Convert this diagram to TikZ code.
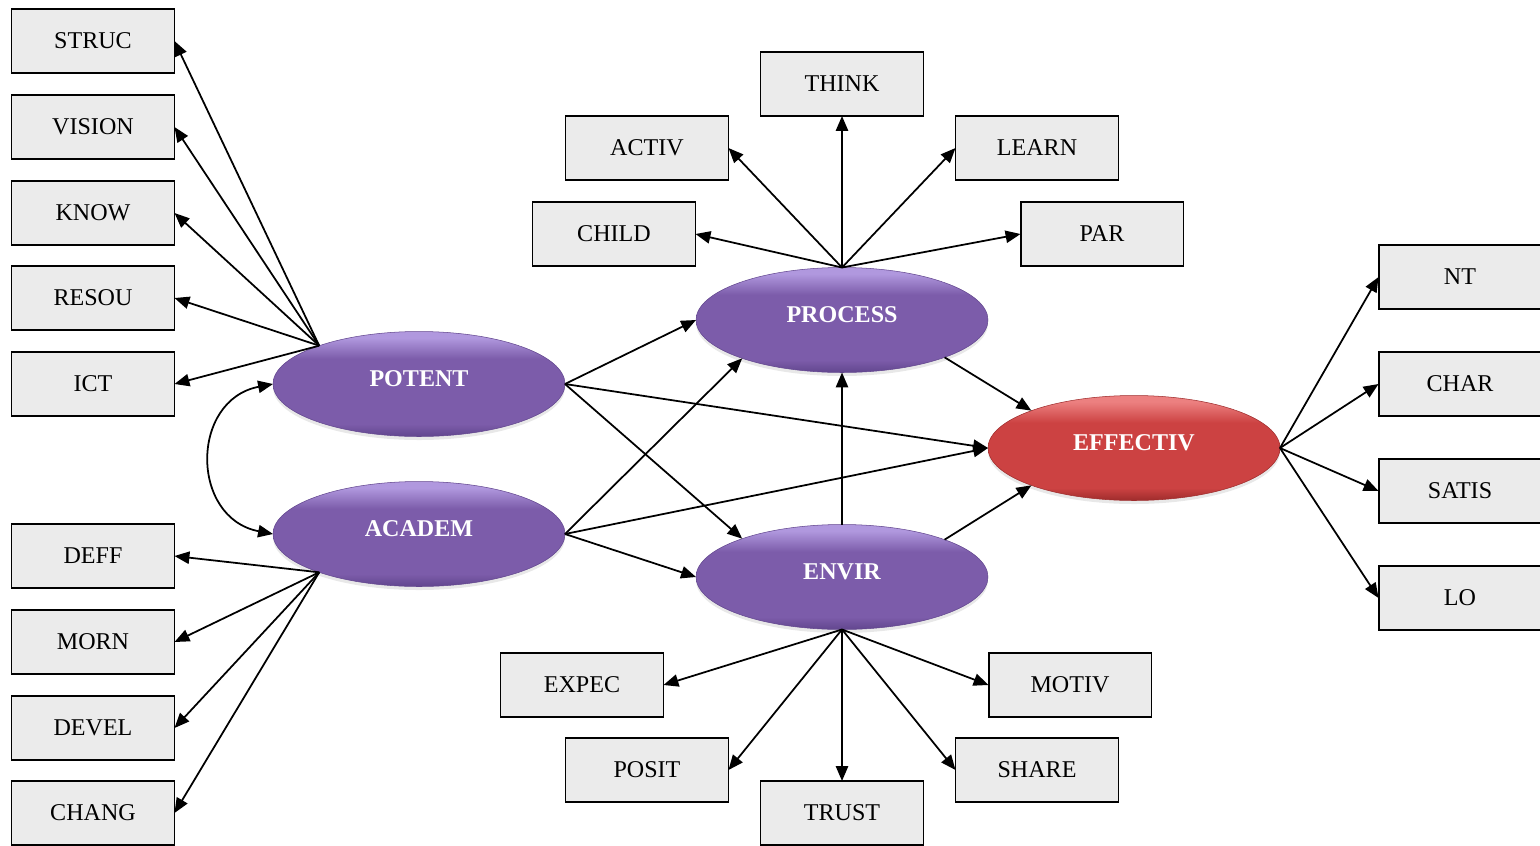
\documentclass[tikz,border=0pt]{standalone}
\usepackage{fontspec}
\setmainfont{Liberation Serif}
\usetikzlibrary{shapes.geometric,arrows.meta,shadows}

\definecolor{boxfill}{RGB}{235,235,235}
\definecolor{plight}{RGB}{176,152,222}
\definecolor{pmain}{RGB}{124,92,170}
\definecolor{pdark}{RGB}{98,70,142}
\definecolor{rlight}{RGB}{236,128,128}
\definecolor{rmain}{RGB}{204,66,66}
\definecolor{rdark}{RGB}{158,44,44}

\pgfdeclareverticalshading{purpleball}{100bp}{color(0bp)=(pdark); color(25bp)=(pdark); color(31bp)=(pmain); color(62bp)=(pmain); color(72bp)=(plight); color(75bp)=(plight); color(100bp)=(plight)}
\pgfdeclareverticalshading{redball}{100bp}{color(0bp)=(rdark); color(25bp)=(rdark); color(31bp)=(rmain); color(62bp)=(rmain); color(72bp)=(rlight); color(75bp)=(rlight); color(100bp)=(rlight)}

\begin{document}
\begin{tikzpicture}[x=0.02cm,y=-0.02cm,
  box/.style={draw, line width=1.1pt, fill=boxfill, minimum width=3.26cm,
    minimum height=1.28cm, inner sep=0pt, outer sep=0pt,
    font=\fontsize{13.7}{16}\selectfont},
  latent/.style={ellipse, minimum width=5.84cm, minimum height=2.1cm,
    inner sep=0pt, outer sep=0pt, text=white, text depth=0.2cm,
    font=\fontsize{13.7}{16}\selectfont\bfseries,
    shading=purpleball, draw=pdark, line width=0.3pt,
    drop shadow={opacity=0.18, shadow xshift=0pt, shadow yshift=-2pt}},
  outcome/.style={latent, shading=redball, draw=rdark},
  arr/.style={-{Triangle[length=8.5pt,width=7pt]}, line width=1pt},
  darr/.style={{Triangle[length=8.5pt,width=7pt]}-{Triangle[length=8.5pt,width=7pt]}, line width=1pt}]

\useasboundingbox (0,0) rectangle (1540,845);

% latent constructs
\node[latent] (potent) at (419,384) {POTENT};
\node[latent] (academ) at (419,534) {ACADEM};
\node[latent] (process) at (842,320) {PROCESS};
\node[latent] (envir) at (842,577) {ENVIR};
\node[outcome] (effectiv) at (1134,448) {EFFECTIV};

% indicators on the left
\node[box] (struc)  at (93,41)  {STRUC};
\node[box] (vision) at (93,127) {VISION};
\node[box] (know)   at (93,213) {KNOW};
\node[box] (resou)  at (93,298) {RESOU};
\node[box] (ict)    at (93,384) {ICT};
\node[box] (deff)   at (93,556) {DEFF};
\node[box] (morn)   at (93,642) {MORN};
\node[box] (devel)  at (93,728) {DEVEL};
\node[box] (chang)  at (93,813) {CHANG};

% indicators of PROCESS
\node[box] (think) at (842,84)  {THINK};
\node[box] (activ) at (647,148) {ACTIV};
\node[box] (learn) at (1037,148) {LEARN};
\node[box] (child) at (614,234) {CHILD};
\node[box] (par)   at (1102,234) {PAR};

% indicators of ENVIR
\node[box] (expec) at (582,685)  {EXPEC};
\node[box] (motiv) at (1070,685) {MOTIV};
\node[box] (posit) at (647,770)  {POSIT};
\node[box] (share) at (1037,770) {SHARE};
\node[box] (trust) at (842,813)  {TRUST};

% indicators of EFFECTIV
\node[box] (nt)    at (1460,277) {NT};
\node[box] (char)  at (1460,384) {CHAR};
\node[box] (satis) at (1460,491) {SATIS};
\node[box] (lo)    at (1460,598) {LO};

% measurement arrows
\foreach \t in {struc,vision,know,resou,ict}
  \draw[arr] (potent.159) -- (\t.east);
\foreach \t in {deff,morn,devel,chang}
  \draw[arr] (academ.201) -- (\t.east);
\draw[arr] (process.north) -- (think.south);
\draw[arr] (process.north) -- (activ.east);
\draw[arr] (process.north) -- (learn.west);
\draw[arr] (process.north) -- (child.east);
\draw[arr] (process.north) -- (par.west);
\draw[arr] (envir.south) -- (expec.east);
\draw[arr] (envir.south) -- (motiv.west);
\draw[arr] (envir.south) -- (posit.east);
\draw[arr] (envir.south) -- (share.west);
\draw[arr] (envir.south) -- (trust.north);
\foreach \t in {nt,char,satis,lo}
  \draw[arr] (effectiv.east) -- (\t.west);

% structural paths
\draw[arr] (potent.east) -- (process.west);
\draw[arr] (potent.east) -- (envir.159);
\draw[arr] (potent.east) -- (effectiv.west);
\draw[arr] (academ.east) -- (process.201);
\draw[arr] (academ.east) -- (envir.west);
\draw[arr] (academ.east) -- (effectiv.west);
\draw[arr] (envir.north) -- (process.south);
\draw[arr] (process.340) -- (effectiv.160);
\draw[arr] (envir.20) -- (effectiv.200);

% covariance
\draw[darr] (potent.west) .. controls (190,400) and (190,518) .. (academ.west);

\end{tikzpicture}
\end{document}
